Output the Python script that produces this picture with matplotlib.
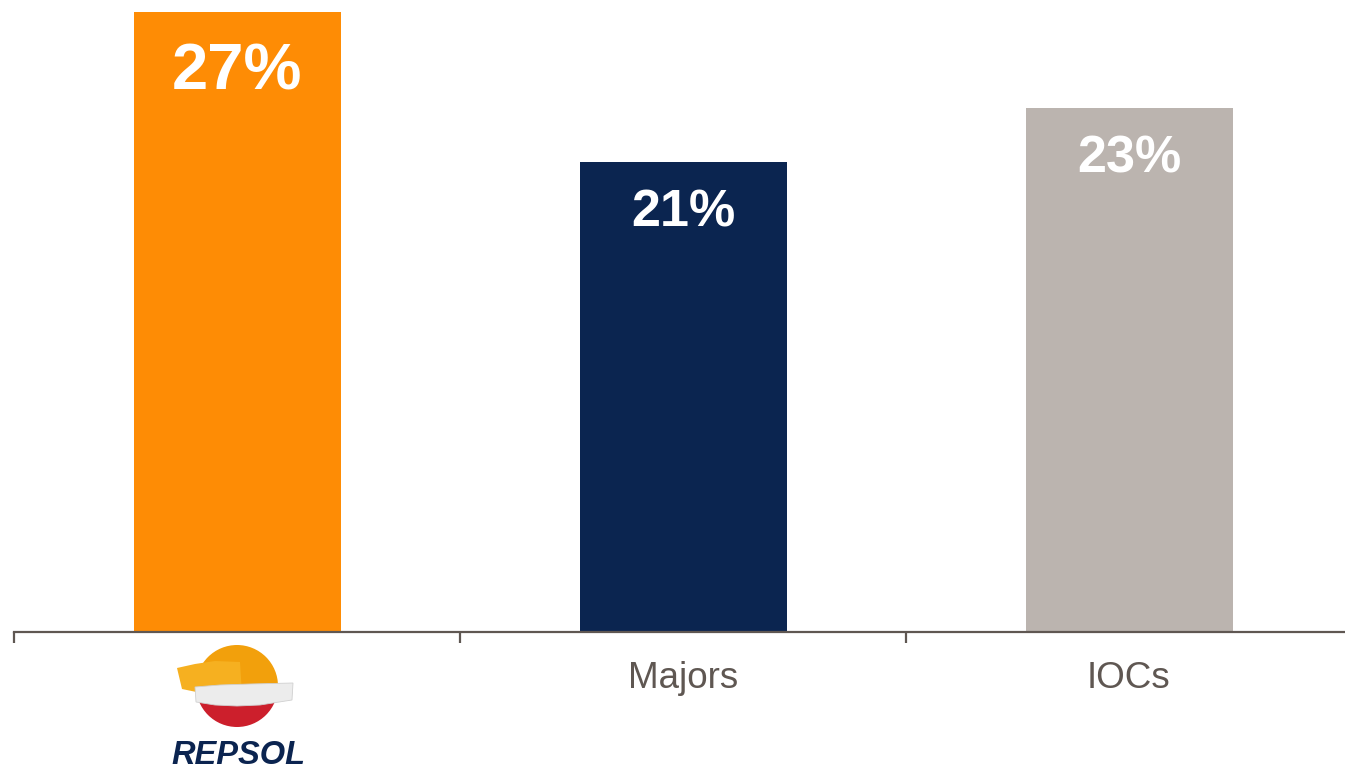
import matplotlib
matplotlib.use("Agg")
import matplotlib.pyplot as plt
from matplotlib.patches import Circle, Rectangle, Polygon

plt.rcParams['font.family'] = ['Liberation Sans', 'DejaVu Sans']

categories = ['Repsol', 'Majors', 'IOCs']
values = [27.3, 20.7, 23.1]
labels = ['27%', '21%', '23%']
colors = ['#fe8c05', '#0b2550', '#bbb4af']
label_sizes = [47, 37.5, 37.5]
label_offsets = [-60, -51, -51]   # px below bar top (label centre)

W, H = 1345, 770
px_per_unit = 22.7
axis_col = '#5f5752'

fig = plt.figure(figsize=(W / 100, H / 100), dpi=100)
base_y = 632
left = 14
cat_w = 446
ax = fig.add_axes([left / W, (H - base_y) / H, (W - left) / W, base_y / H])

x = list(range(len(categories)))
bars = ax.bar(x, values, width=207 / cat_w, color=colors, zorder=2)

for b, lab, fs, off in zip(bars, labels, label_sizes, label_offsets):
    ax.annotate(lab, (b.get_x() + b.get_width() / 2, b.get_height()),
                xytext=(0, off * 0.72), textcoords='offset points',
                ha='center', va='center', color='white', fontsize=fs,
                fontweight='bold', zorder=3)

for s in ['top', 'left', 'right']:
    ax.spines[s].set_visible(False)
ax.spines['bottom'].set_color(axis_col)
ax.spines['bottom'].set_linewidth(1.6)
ax.set_yticks([])
ax.set_xticks(x)
ax.set_xticklabels(['', 'Majors', 'IOCs'], fontsize=26.5, color=axis_col)
ax.tick_params(axis='x', which='major', length=0, pad=21)
ax.set_xticks([-0.5, 0.5, 1.5, 2.5], minor=True)
ax.tick_params(axis='x', which='minor', length=8, width=1.6, color=axis_col)
ax.set_xlim(-0.5, -0.5 + (W - left) / cat_w)
ax.set_ylim(0, base_y / px_per_unit)

# Repsol logo drawn in a pixel-coordinate overlay
lg = fig.add_axes([0, 0, 1, 1])
lg.set_xlim(0, W)
lg.set_ylim(H, 0)
lg.axis('off')
lg.patch.set_alpha(0)

sphere = Circle((237, 686), 41, facecolor='none', edgecolor='none')
lg.add_patch(sphere)
top = Rectangle((190, 640), 100, 50, facecolor='#f2a00c', edgecolor='none')
lg.add_patch(top)
top.set_clip_path(sphere)
bot = Rectangle((190, 698), 100, 40, facecolor='#cc1f2c', edgecolor='none')
lg.add_patch(bot)
bot.set_clip_path(sphere)
lg.add_patch(Polygon([(177, 668), (195, 664), (215, 661), (240, 662),
                      (242, 694), (206, 694), (182, 689)],
                     closed=True, facecolor='#f6b020', edgecolor='none'))
lg.add_patch(Polygon([(195, 687), (220, 685), (250, 684), (293, 683),
                      (292, 700), (260, 705), (237, 706), (215, 705), (196, 702)],
                     closed=True, facecolor='#ececec', edgecolor='#d0d0d0', lw=0.6))
lg.text(238, 756, 'REPSOL', ha='center', va='center', fontsize=23.5,
        fontweight='bold', fontstyle='italic', color='#0b2450')

fig.savefig('out.png', dpi=100)
